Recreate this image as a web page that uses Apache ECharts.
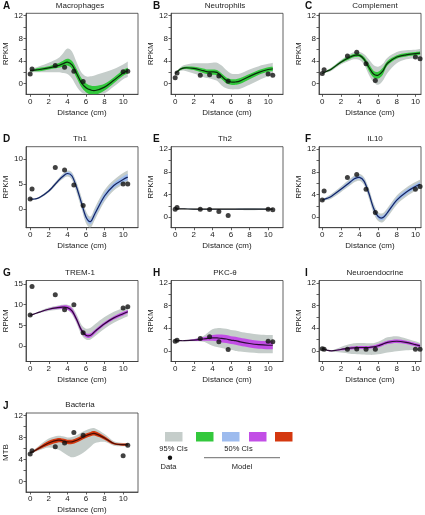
<!DOCTYPE html>
<html><head><meta charset="utf-8">
<script src="https://cdn.jsdelivr.net/npm/echarts@6/dist/echarts.min.js"></script>
<style>html,body{margin:0;padding:0;background:#fff}#c{width:425px;height:515px}</style>
</head><body><div id="c"></div>
<script>
// ---------------- DATA ----------------
const GRID_X = [0, 0.5, 1, 2, 3, 3.5, 4, 4.5, 5, 5.5, 6, 6.5, 7, 8, 9, 10, 10.5];
const DATA_X = [0, 0.2, 2.7, 3.7, 4.7, 5.7, 10, 10.5];
const X_TICKS = [0, 2, 4, 6, 8, 10];

// A Macrophages
const macroData = [1.7, 2.6, 3.2, 2.9, 2.2, 0.4, 2.1, 2.2];
const macroLine = [2.3, 2.4, 2.5, 2.8, 3.2, 3.5, 3.8, 3.3, 1.8, 0.2, -0.7, -1.1, -1.2, -0.6, 0.6, 1.9, 2.3];
const macroHi95 = [2.6, 2.8, 3.1, 3.7, 4.5, 5.3, 6.2, 5.7, 3.8, 2.0, 1.3, 1.3, 1.5, 2.0, 2.6, 3.4, 3.9];
const macroLo95 = [2.0, 2.0, 2.0, 2.0, 2.0, 1.9, 1.7, 0.9, -0.5, -1.5, -1.9, -2.0, -2.0, -1.7, -0.5, 0.8, 1.2];
const macroHi50 = [2.4, 2.6, 2.8, 3.1, 3.6, 4.0, 4.4, 4.0, 2.6, 1.0, 0.1, -0.3, -0.4, 0.0, 1.1, 2.4, 2.8];
const macroLo50 = [2.2, 2.2, 2.2, 2.5, 2.8, 3.0, 3.2, 2.6, 1.0, -0.6, -1.5, -1.9, -2.0, -1.2, 0.1, 1.4, 1.8];

// B Neutrophils
const neutData = [1.05, 1.9, 1.5, 1.6, 1.35, 0.45, 1.7, 1.5];
const neutLine = [1.8, 2.5, 2.8, 2.7, 2.3, 2.1, 2.1, 2.0, 1.3, 0.6, 0.3, 0.3, 0.5, 1.3, 2.0, 2.5, 2.6];
const neutHi95 = [1.9, 2.8, 3.3, 3.6, 3.6, 3.6, 3.7, 3.7, 3.2, 2.4, 1.8, 1.7, 1.8, 2.5, 3.1, 3.5, 3.7];
const neutLo95 = [1.7, 2.2, 2.3, 1.8, 1.2, 1.0, 0.8, 0.5, -0.3, -0.8, -1.0, -1.0, -0.9, -0.2, 0.6, 1.3, 1.5];
const neutHi50 = [1.85, 2.65, 3.0, 3.0, 2.7, 2.5, 2.5, 2.4, 1.8, 1.1, 0.8, 0.8, 1.0, 1.7, 2.4, 2.9, 3.0];
const neutLo50 = [1.75, 2.35, 2.6, 2.4, 1.9, 1.7, 1.6, 1.5, 0.8, 0.1, -0.2, -0.2, 0.0, 0.8, 1.6, 2.1, 2.2];

// C Complement
const compData = [1.8, 2.45, 4.9, 5.55, 3.5, 0.55, 4.7, 4.4];
const compLine = [1.8, 2.2, 2.6, 3.8, 4.7, 5.0, 5.0, 4.3, 2.9, 1.7, 1.5, 2.2, 3.6, 4.7, 5.1, 5.3, 5.4];
const compHi95 = [1.9, 2.4, 2.9, 4.2, 5.3, 5.6, 5.6, 5.2, 4.3, 3.3, 3.0, 3.5, 4.6, 5.6, 5.9, 6.0, 6.1];
const compLo95 = [1.7, 2.0, 2.3, 3.4, 4.1, 4.3, 4.2, 3.4, 1.6, 0.3, -0.2, 0.5, 1.9, 3.6, 4.3, 4.5, 4.6];
const compHi50 = [1.85, 2.3, 2.75, 4.0, 5.0, 5.3, 5.3, 4.7, 3.5, 2.3, 2.1, 2.8, 4.0, 5.0, 5.4, 5.6, 5.7];
const compLo50 = [1.75, 2.1, 2.45, 3.6, 4.4, 4.7, 4.7, 3.9, 2.3, 1.1, 0.9, 1.6, 3.2, 4.4, 4.8, 5.0, 5.1];

// D Th1
const th1Data = [2.0, 4.0, 8.3, 7.8, 4.8, 0.7, 5.0, 5.0];
const th1Line = [2.0, 2.0, 2.3, 3.6, 5.6, 6.5, 7.1, 6.6, 4.3, 1.3, -1.6, -2.5, -0.8, 2.6, 4.7, 5.9, 6.4];
const th1Hi95 = [2.1, 2.1, 2.5, 3.9, 6.0, 7.0, 7.7, 7.3, 5.3, 2.5, -0.4, -1.5, 0.4, 3.8, 5.8, 7.2, 7.7];
const th1Lo95 = [1.9, 1.9, 2.1, 3.3, 5.2, 6.0, 6.5, 5.8, 3.2, 0.2, -2.8, -3.7, -2.0, 1.5, 3.7, 4.9, 5.3];
const th1Hi50 = [2.05, 2.05, 2.4, 3.75, 5.8, 6.8, 7.4, 7.0, 4.8, 1.9, -1.0, -2.0, -0.2, 3.2, 5.2, 6.5, 7.0];
const th1Lo50 = [1.95, 1.95, 2.2, 3.45, 5.4, 6.2, 6.8, 6.2, 3.8, 0.7, -2.2, -3.0, -1.4, 2.0, 4.2, 5.3, 5.8];

// E Th2
const th2Data = [1.4, 1.7, 1.4, 1.35, 1.0, 0.3, 1.4, 1.3];
const th2Line = [1.45, 1.45, 1.45, 1.4, 1.4, 1.4, 1.4, 1.4, 1.4, 1.4, 1.4, 1.4, 1.4, 1.4, 1.4, 1.4, 1.4];
const th2Hi95 = [1.5, 1.5, 1.5, 1.5, 1.5, 1.5, 1.5, 1.5, 1.5, 1.5, 1.5, 1.5, 1.55, 1.6, 1.55, 1.5, 1.5];
const th2Lo95 = [1.4, 1.4, 1.4, 1.3, 1.3, 1.3, 1.3, 1.3, 1.3, 1.3, 1.3, 1.3, 1.25, 1.2, 1.25, 1.3, 1.3];
const th2Hi50 = [1.47, 1.47, 1.47, 1.45, 1.45, 1.45, 1.45, 1.45, 1.45, 1.45, 1.45, 1.45, 1.46, 1.48, 1.46, 1.45, 1.45];
const th2Lo50 = [1.43, 1.43, 1.43, 1.35, 1.35, 1.35, 1.35, 1.35, 1.35, 1.35, 1.35, 1.35, 1.34, 1.32, 1.34, 1.35, 1.35];

// F IL10
const il10Data = [3.0, 4.6, 7.0, 7.5, 4.9, 0.8, 4.9, 5.4];
const il10Line = [3.0, 3.3, 3.7, 4.9, 6.2, 6.8, 7.0, 6.3, 4.2, 1.6, 0.1, -0.1, 0.8, 3.0, 4.4, 5.4, 5.8];
const il10Hi95 = [3.2, 3.6, 4.1, 5.4, 6.8, 7.4, 7.6, 7.0, 5.1, 2.5, 0.9, 0.7, 1.6, 3.8, 5.2, 6.2, 6.6];
const il10Lo95 = [2.8, 3.0, 3.3, 4.4, 5.6, 6.2, 6.4, 5.6, 3.3, 0.7, -0.7, -0.9, 0.0, 2.2, 3.6, 4.6, 5.0];
const il10Hi50 = [3.1, 3.45, 3.9, 5.15, 6.5, 7.1, 7.3, 6.65, 4.65, 2.05, 0.5, 0.3, 1.2, 3.4, 4.8, 5.8, 6.2];
const il10Lo50 = [2.9, 3.15, 3.5, 4.65, 5.9, 6.5, 6.7, 5.95, 3.75, 1.15, -0.3, -0.5, 0.4, 2.6, 4.0, 5.0, 5.4];

// G TREM-1
const tremData = [7.5, 14.4, 12.4, 8.8, 10.0, 3.2, 9.2, 9.5];
const tremLine = [7.4, 7.8, 8.2, 8.9, 9.3, 9.4, 9.3, 8.5, 6.4, 3.9, 2.6, 2.6, 3.6, 5.4, 6.8, 7.8, 8.3];
const tremHi95 = [7.5, 7.9, 8.4, 9.3, 9.8, 10.0, 10.0, 9.5, 7.6, 5.2, 4.2, 4.4, 5.3, 7.0, 8.3, 9.2, 9.6];
const tremLo95 = [7.3, 7.7, 8.0, 8.5, 8.8, 8.9, 8.7, 7.6, 5.4, 2.8, 1.6, 1.6, 2.4, 4.2, 5.6, 6.7, 7.2];
const tremHi50 = [7.45, 7.85, 8.3, 9.1, 9.6, 9.8, 9.8, 9.1, 7.0, 4.4, 3.1, 3.1, 4.0, 5.8, 7.2, 8.2, 8.7];
const tremLo50 = [7.35, 7.75, 8.1, 8.7, 9.0, 9.0, 8.8, 7.9, 5.8, 3.3, 2.1, 2.1, 3.1, 5.0, 6.4, 7.4, 7.9];

// H PKC-θ
const pkcData = [1.7, 1.9, 2.2, 2.5, 1.6, 0.25, 1.7, 1.6];
const pkcLine = [1.8, 1.8, 1.8, 1.9, 2.1, 2.2, 2.3, 2.3, 2.2, 2.1, 1.9, 1.8, 1.6, 1.3, 1.1, 1.0, 1.0];
const pkcHi95 = [1.8, 1.85, 1.9, 2.1, 2.6, 3.2, 3.8, 4.0, 4.0, 3.9, 3.7, 3.6, 3.4, 3.1, 2.9, 2.8, 2.8];
const pkcLo95 = [1.8, 1.75, 1.7, 1.7, 1.6, 1.3, 0.9, 0.7, 0.5, 0.3, 0.2, 0.0, -0.1, -0.3, -0.4, -0.4, -0.4];
const pkcHi50 = [1.8, 1.8, 1.85, 2.05, 2.4, 2.6, 2.8, 2.9, 2.9, 2.8, 2.6, 2.5, 2.3, 2.0, 1.8, 1.7, 1.7];
const pkcLo50 = [1.8, 1.8, 1.75, 1.75, 1.8, 1.8, 1.8, 1.7, 1.5, 1.4, 1.2, 1.1, 0.9, 0.6, 0.4, 0.3, 0.3];

// I Neuroendocrine
const neuroData = [0.4, 0.3, 0.3, 0.35, 0.3, 0.3, 0.3, 0.3];
const neuroLine = [0.4, 0.15, 0.0, 0.25, 0.5, 0.55, 0.6, 0.6, 0.6, 0.7, 0.9, 1.2, 1.5, 1.7, 1.5, 1.1, 0.9];
const neuroHi95 = [0.45, 0.2, 0.1, 0.7, 1.2, 1.35, 1.4, 1.4, 1.35, 1.35, 1.6, 2.0, 2.4, 2.6, 2.2, 1.7, 1.4];
const neuroLo95 = [0.35, 0.1, -0.1, -0.3, -0.5, -0.55, -0.6, -0.65, -0.7, -0.7, -0.6, -0.45, -0.3, -0.05, 0.1, 0.2, 0.2];
const neuroHi50 = [0.42, 0.18, 0.05, 0.4, 0.75, 0.8, 0.85, 0.85, 0.85, 0.95, 1.2, 1.5, 1.8, 2.0, 1.8, 1.4, 1.2];
const neuroLo50 = [0.38, 0.12, -0.05, 0.1, 0.25, 0.3, 0.35, 0.35, 0.35, 0.45, 0.6, 0.9, 1.2, 1.4, 1.2, 0.8, 0.6];

// J Bacteria
const bactData = [5.0, 5.6, 6.3, 7.0, 8.9, 8.4, 4.7, 6.6];
const bactLine = [5.2, 5.6, 6.1, 7.0, 7.5, 7.4, 7.2, 7.2, 7.5, 7.9, 8.3, 8.6, 8.7, 7.9, 6.9, 6.7, 6.7];
const bactHi95 = [5.3, 5.9, 6.6, 7.8, 8.3, 8.2, 8.0, 8.1, 8.4, 8.9, 9.3, 9.6, 9.6, 8.6, 7.3, 7.0, 7.0];
const bactLo95 = [5.1, 5.4, 5.7, 6.2, 5.8, 5.3, 4.8, 4.4, 4.6, 5.0, 5.6, 6.3, 7.0, 7.2, 6.5, 6.4, 6.4];
const bactHi50 = [5.3, 5.75, 6.35, 7.4, 7.9, 7.8, 7.6, 7.6, 7.9, 8.3, 8.7, 9.0, 9.1, 8.2, 7.1, 6.9, 6.9];
const bactLo50 = [5.1, 5.45, 5.85, 6.6, 7.1, 7.0, 6.8, 6.8, 7.1, 7.5, 7.9, 8.2, 8.3, 7.6, 6.7, 6.5, 6.5];

const Y_TICKS_STD = [0, 2, 4, 6, 8, 10, 12];
const Y_LABELS_STD = [0, 4, 8, 12];
const Y_TICKS_TH1 = [0, 5, 10];
const Y_TICKS_TREM = [0, 5, 10, 15];

// ---------------- STYLE / LAYOUT ----------------
const FONT = 'Liberation Sans, Arial, sans-serif';
const TXT = '#222';
const AX = '#3a3a3a';
const GREY = '#c5cdca';
const C_GREEN = '#33c83c', C_BLUE = '#9dbbee', C_PURPLE = '#c24ee6', C_RED = '#d4380f';
const L_GREEN = '#0b2a0b', L_BLUE = '#15245e', L_PURPLE = '#2c0c36', L_RED = '#4a0c04';

const COL_LEFT = [26, 171, 319];
const COL_W = [112, 112, 102];
const COL_XMAX = [11.6, 11.6, 10.6];
const COL_XMIN = [-0.45, -0.45, -0.35];
const ROW_TOP = [13.3, 146.7, 280.5, 413];
const BOX_H = 81;

const STD_Y = { min: -1.87, max: 12.42, ticks: Y_TICKS_STD, labels: Y_LABELS_STD };
const TH1_Y = { min: -3.74, max: 12.46, ticks: Y_TICKS_TH1, labels: Y_TICKS_TH1 };
const TREM_Y = { min: -3.75, max: 15.85, ticks: Y_TICKS_TREM, labels: Y_TICKS_TREM };

const panels = [
  { letter: 'A', title: 'Macrophages', yName: 'RPKM', row: 0, col: 0, y: STD_Y, band: C_GREEN, lc: L_GREEN,
    data: macroData, line: macroLine, hi95: macroHi95, lo95: macroLo95, hi50: macroHi50, lo50: macroLo50 },
  { letter: 'B', title: 'Neutrophils', yName: 'RPKM', row: 0, col: 1, y: STD_Y, band: C_GREEN, lc: L_GREEN,
    data: neutData, line: neutLine, hi95: neutHi95, lo95: neutLo95, hi50: neutHi50, lo50: neutLo50 },
  { letter: 'C', title: 'Complement', yName: 'RPKM', row: 0, col: 2, y: STD_Y, band: C_GREEN, lc: L_GREEN,
    data: compData, line: compLine, hi95: compHi95, lo95: compLo95, hi50: compHi50, lo50: compLo50 },
  { letter: 'D', title: 'Th1', yName: 'RPKM', row: 1, col: 0, y: TH1_Y, band: C_BLUE, lc: L_BLUE,
    data: th1Data, line: th1Line, hi95: th1Hi95, lo95: th1Lo95, hi50: th1Hi50, lo50: th1Lo50 },
  { letter: 'E', title: 'Th2', yName: 'RPKM', row: 1, col: 1, y: STD_Y, band: C_BLUE, lc: '#111',
    data: th2Data, line: th2Line, hi95: th2Hi95, lo95: th2Lo95, hi50: th2Hi50, lo50: th2Lo50 },
  { letter: 'F', title: 'IL10', yName: 'RPKM', row: 1, col: 2, y: STD_Y, band: C_BLUE, lc: L_BLUE,
    data: il10Data, line: il10Line, hi95: il10Hi95, lo95: il10Lo95, hi50: il10Hi50, lo50: il10Lo50 },
  { letter: 'G', title: 'TREM-1', yName: 'RPKM', row: 2, col: 0, y: TREM_Y, band: C_PURPLE, lc: L_PURPLE,
    data: tremData, line: tremLine, hi95: tremHi95, lo95: tremLo95, hi50: tremHi50, lo50: tremLo50 },
  { letter: 'H', title: 'PKC-θ', yName: 'RPKM', row: 2, col: 1, y: STD_Y, band: C_PURPLE, lc: L_PURPLE,
    data: pkcData, line: pkcLine, hi95: pkcHi95, lo95: pkcLo95, hi50: pkcHi50, lo50: pkcLo50 },
  { letter: 'I', title: 'Neuroendocrine', yName: 'RPKM', row: 2, col: 2, y: STD_Y, band: C_PURPLE, lc: L_PURPLE,
    data: neuroData, line: neuroLine, hi95: neuroHi95, lo95: neuroLo95, hi50: neuroHi50, lo50: neuroLo50 },
  { letter: 'J', title: 'Bacteria', yName: 'MTB', row: 3, col: 0, y: STD_Y, band: C_RED, lc: L_RED,
    data: bactData, line: bactLine, hi95: bactHi95, lo95: bactLo95, hi50: bactHi50, lo50: bactLo50 }
];

// ---------------- BUILD ----------------
const zip = (xs, ys) => xs.map((x, i) => [x, ys[i]]);
const f = v => v.toFixed(2);
// Catmull-Rom -> cubic bezier segments through pixel points (from api.coord)
function curveSegs(pts) {
  let s = '';
  for (let i = 0; i < pts.length - 1; i++) {
    const p0 = pts[i - 1] || pts[i], p1 = pts[i], p2 = pts[i + 1], p3 = pts[i + 2] || p2;
    const c1 = [p1[0] + (p2[0] - p0[0]) / 6, p1[1] + (p2[1] - p0[1]) / 6];
    const c2 = [p2[0] - (p3[0] - p1[0]) / 6, p2[1] - (p3[1] - p1[1]) / 6];
    s += 'C' + f(c1[0]) + ' ' + f(c1[1]) + ' ' + f(c2[0]) + ' ' + f(c2[1]) + ' ' + f(p2[0]) + ' ' + f(p2[1]) + ' ';
  }
  return s;
}
function clipOf(params) {
  const c = params.coordSys;
  return { type: 'rect', shape: { x: c.x, y: c.y, width: c.width, height: c.height } };
}
function bandRenderer(xs, lo, hi, color) {
  return function (params, api) {
    if (params.dataIndex !== 0) return null;
    const top = xs.map((x, k) => api.coord([x, hi[k]]));
    const bot = xs.map((x, k) => api.coord([x, lo[k]])).reverse();
    const d = 'M' + f(top[0][0]) + ' ' + f(top[0][1]) + ' ' + curveSegs(top) +
      'L' + f(bot[0][0]) + ' ' + f(bot[0][1]) + ' ' + curveSegs(bot) + 'Z';
    return { type: 'path', shape: { pathData: d }, style: { fill: color, stroke: null }, clipPath: clipOf(params) };
  };
}
function lineRenderer(xs, ys, color) {
  return function (params, api) {
    if (params.dataIndex !== 0) return null;
    const pts = xs.map((x, k) => api.coord([x, ys[k]]));
    const d = 'M' + f(pts[0][0]) + ' ' + f(pts[0][1]) + ' ' + curveSegs(pts);
    return { type: 'path', shape: { pathData: d }, style: { fill: null, stroke: color, lineWidth: 1.2 }, clipPath: clipOf(params) };
  };
}

const grids = [], xAxes = [], yAxes = [], series = [], graphics = [];
panels.forEach((p, i) => {
  const left = COL_LEFT[p.col], top = ROW_TOP[p.row], w = COL_W[p.col];
  grids.push({ left: left, top: top, width: w, height: BOX_H, show: true,
    borderColor: AX, borderWidth: 0.8, backgroundColor: 'transparent', containLabel: false });
  xAxes.push({ type: 'value', gridIndex: i, min: COL_XMIN[p.col], max: COL_XMAX[p.col],
    name: 'Distance (cm)', nameLocation: 'middle', nameGap: 14,
    nameTextStyle: { fontFamily: FONT, fontSize: 8, color: TXT },
    axisLine: { show: true, onZero: false, lineStyle: { color: AX, width: 0.8 } },
    axisTick: { show: true, length: 2.5, customValues: X_TICKS, lineStyle: { color: AX, width: 0.8 } },
    axisLabel: { show: true, customValues: X_TICKS, margin: 3, fontFamily: FONT, fontSize: 8, color: TXT },
    splitLine: { show: false } });
  yAxes.push({ type: 'value', gridIndex: i, min: p.y.min, max: p.y.max,
    name: p.yName, nameLocation: 'middle', nameGap: 13, nameRotate: 90,
    nameTextStyle: { fontFamily: FONT, fontSize: 8, color: TXT },
    axisLine: { show: true, onZero: false, lineStyle: { color: AX, width: 0.8 } },
    axisTick: { show: true, length: 2.5, customValues: p.y.ticks, lineStyle: { color: AX, width: 0.8 } },
    axisLabel: { show: true, customValues: p.y.labels, margin: 3, fontFamily: FONT, fontSize: 8, color: TXT },
    splitLine: { show: false } });

  const base = { type: 'custom', xAxisIndex: i, yAxisIndex: i, silent: true, animation: false, clip: true,
    data: [[GRID_X[0], p.line[0]]], encode: { x: 0, y: 1 } };
  series.push(Object.assign({}, base, { renderItem: bandRenderer(GRID_X, p.lo95, p.hi95, GREY), z: 1 }));
  series.push(Object.assign({}, base, { renderItem: bandRenderer(GRID_X, p.lo50, p.hi50, p.band), z: 2 }));
  series.push(Object.assign({}, base, { renderItem: lineRenderer(GRID_X, p.line, p.lc), z: 3 }));
  series.push({ type: 'scatter', xAxisIndex: i, yAxisIndex: i, data: zip(DATA_X, p.data), symbolSize: 5,
    itemStyle: { color: '#111' }, silent: true, animation: false, clip: false, z: 4 });

  graphics.push({ type: 'text', x: left + w / 2 + (p.col === 2 ? 5 : -2), y: top - 12,
    style: { text: p.title, font: '8px ' + FONT, fill: TXT, textAlign: 'center' } });
  graphics.push({ type: 'text', x: (p.col === 0 ? 3 : (p.col === 1 ? 153 : 305)), y: top - 12,
    style: { text: p.letter, font: 'bold 10px ' + FONT, fill: '#111' } });
});

// legend (graphic)
const LEG_Y = 432, LEG_H = 9.5, LEG_W = 17.5;
[[165, GREY], [196, C_GREEN], [222, C_BLUE], [249, C_PURPLE], [275, C_RED]].forEach(([x, c]) => {
  graphics.push({ type: 'rect', shape: { x: x, y: LEG_Y, width: LEG_W, height: LEG_H }, style: { fill: c } });
});
graphics.push({ type: 'text', x: 173.5, y: 445, style: { text: '95% CIs', font: '7.5px ' + FONT, fill: TXT, textAlign: 'center' } });
graphics.push({ type: 'text', x: 238.5, y: 445, style: { text: '50% CIs', font: '7.5px ' + FONT, fill: TXT, textAlign: 'center' } });
graphics.push({ type: 'circle', shape: { cx: 170, cy: 457.7, r: 2.2 }, style: { fill: '#111' } });
graphics.push({ type: 'text', x: 168.5, y: 463, style: { text: 'Data', font: '7.5px ' + FONT, fill: TXT, textAlign: 'center' } });
graphics.push({ type: 'line', shape: { x1: 204, y1: 457.7, x2: 280, y2: 457.7 }, style: { stroke: '#888', lineWidth: 1.2 } });
graphics.push({ type: 'text', x: 242, y: 463, style: { text: 'Model', font: '7.5px ' + FONT, fill: TXT, textAlign: 'center' } });

const chart = echarts.init(document.getElementById('c'), null, { renderer: 'canvas' });
chart.setOption({
  animation: false,
  backgroundColor: '#fff',
  grid: grids, xAxis: xAxes, yAxis: yAxes, series: series, graphic: graphics
});
</script></body></html>
